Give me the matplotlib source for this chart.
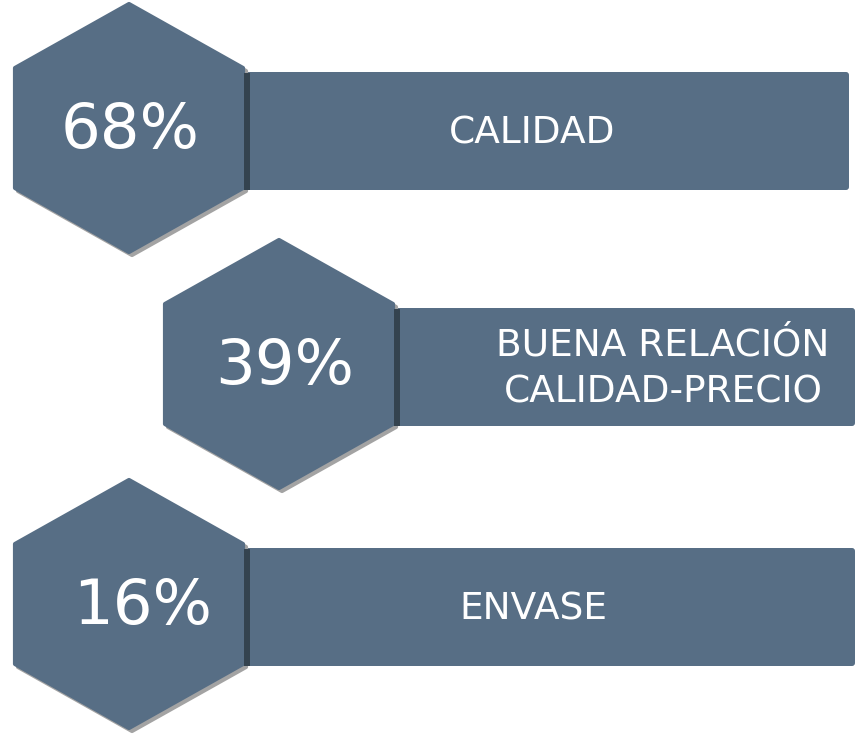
import matplotlib.pyplot as plt
from matplotlib.patches import Polygon, FancyBboxPatch, Rectangle

plt.rcParams['font.family'] = ['DejaVu Sans']

# data
values = [68, 39, 16]
labels = ['CALIDAD', 'BUENA RELACIÓN\nCALIDAD-PRECIO', 'ENVASE']

# layout (pixels)
hex_left = [15, 165, 15]
hex_top = [4, 240, 480]
bar_right = [852, 858, 858]
pct_dx = [115, 120, 128]
label_x = [532, 663, 533]

color = '#576e85'
dark = '#34434f'
shadow = '#a3a3a3'

W, H = 858, 735
fig = plt.figure(figsize=(W / 100, H / 100), dpi=100)
ax = fig.add_axes([0, 0, 1, 1])
ax.set_xlim(0, W)
ax.set_ylim(H, 0)
ax.axis('off')

hw, hh = 228, 248
for i, (v, lab) in enumerate(zip(values, labels)):
    x0, y0 = hex_left[i], hex_top[i]
    pts = [(x0 + hw / 2, y0), (x0 + hw, y0 + 0.258 * hh), (x0 + hw, y0 + 0.742 * hh),
           (x0 + hw / 2, y0 + hh), (x0, y0 + 0.742 * hh), (x0, y0 + 0.258 * hh)]
    # bar
    by0 = y0 + 68
    by1 = y0 + 186
    bx0 = x0 + hw
    bar = FancyBboxPatch((bx0, by0), bar_right[i] - bx0 - 3, by1 - by0,
                         boxstyle='round,pad=0,rounding_size=3', fc=color, ec='none', zorder=1)
    ax.add_patch(bar)
    # hexagon shadow + hexagon
    sh = [(px + 3, py + 3) for px, py in pts]
    ax.add_patch(Polygon(sh, closed=True, fc=shadow, ec=shadow, lw=3, joinstyle='round', zorder=3))
    ax.add_patch(Polygon(pts, closed=True, fc=color, ec=color, lw=3, joinstyle='round', zorder=4))
    # hexagon shadow falling on the bar
    ax.add_patch(Rectangle((bx0 + 1, by0 + 1), 6, by1 - by0 - 1, fc=dark, ec='none', zorder=5))
    ax.text(x0 + pct_dx[i], y0 + hh / 2 + 3, f'{v}%', color='white', fontsize=45,
            ha='center', va='center', zorder=6)
    ax.text(label_x[i], (by0 + by1) / 2 + 2, lab, color='white', fontsize=27,
            ha='center', va='center', linespacing=1.36, zorder=6)

fig.savefig('out.png', dpi=100, facecolor='white')
